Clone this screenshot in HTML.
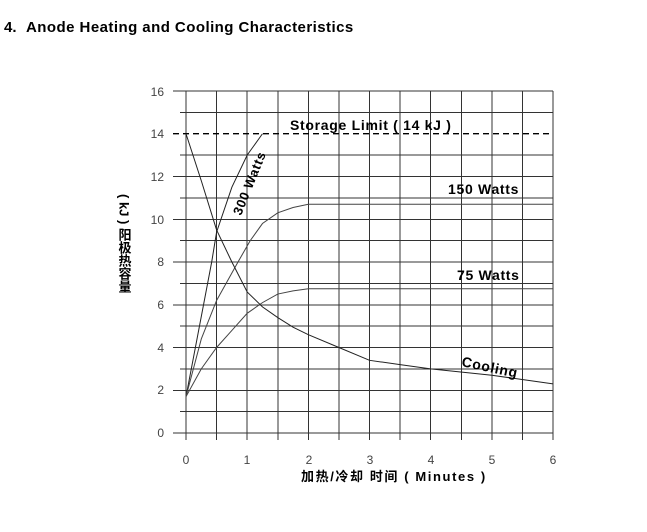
<!DOCTYPE html>
<html><head><meta charset="utf-8"><style>
body{margin:0;background:#fff;width:647px;height:532px;overflow:hidden;font-family:"Liberation Sans","Noto Sans CJK SC",sans-serif}
svg{position:absolute;left:0;top:0}
</style></head><body>
<svg width="647" height="532" xmlns="http://www.w3.org/2000/svg" font-family="Liberation Sans, Noto Sans CJK SC, sans-serif">
<text x="4" y="32" font-size="15" font-weight="bold" fill="#000">4.</text>
<text x="26" y="32" font-size="15" font-weight="bold" fill="#000" letter-spacing="0.45">Anode Heating and Cooling Characteristics</text>
<g stroke="#333" stroke-width="1" shape-rendering="crispEdges">
<line x1="173" y1="91" x2="553" y2="91"/><line x1="180" y1="112.4" x2="553" y2="112.4"/>
<line x1="180" y1="155.1" x2="553" y2="155.1"/><line x1="173" y1="176.5" x2="553" y2="176.5"/>
<line x1="180" y1="197.9" x2="553" y2="197.9"/><line x1="173" y1="219.3" x2="553" y2="219.3"/>
<line x1="180" y1="240.6" x2="553" y2="240.6"/><line x1="173" y1="262" x2="553" y2="262"/>
<line x1="180" y1="283.4" x2="553" y2="283.4"/><line x1="173" y1="304.8" x2="553" y2="304.8"/>
<line x1="180" y1="326.1" x2="553" y2="326.1"/><line x1="173" y1="347.5" x2="553" y2="347.5"/>
<line x1="180" y1="368.9" x2="553" y2="368.9"/><line x1="173" y1="390.3" x2="553" y2="390.3"/>
<line x1="180" y1="411.6" x2="553" y2="411.6"/><line x1="173" y1="433" x2="553" y2="433"/>
<line x1="186" y1="91" x2="186" y2="440"/><line x1="216.6" y1="91" x2="216.6" y2="440"/>
<line x1="247.2" y1="91" x2="247.2" y2="440"/><line x1="277.8" y1="91" x2="277.8" y2="440"/>
<line x1="308.3" y1="91" x2="308.3" y2="440"/><line x1="338.9" y1="91" x2="338.9" y2="440"/>
<line x1="369.5" y1="91" x2="369.5" y2="440"/><line x1="400.1" y1="91" x2="400.1" y2="440"/>
<line x1="430.7" y1="91" x2="430.7" y2="440"/><line x1="461.3" y1="91" x2="461.3" y2="440"/>
<line x1="491.9" y1="91" x2="491.9" y2="440"/><line x1="522.4" y1="91" x2="522.4" y2="440"/>
<line x1="553" y1="91" x2="553" y2="440"/>
</g>
<line x1="173" y1="133.7" x2="553" y2="133.7" stroke="#000" stroke-width="1.3" stroke-dasharray="6,4"/>
<g transform="translate(186,433) scale(61.17,-21.375)" fill="none" stroke="#222" stroke-width="1" >
<polyline vector-effect="non-scaling-stroke" points="0,1.7 0.42,8 0.5,9.4 0.75,11.5 1,13 1.25,14"/>
<polyline vector-effect="non-scaling-stroke" stroke="#444" points="0,1.7 0.25,4.4 0.5,6.2 0.85,8 1.05,9 1.25,9.8 1.5,10.3 1.75,10.55 2,10.7 6,10.7"/>
<polyline vector-effect="non-scaling-stroke" stroke="#444" points="0,1.7 0.25,3 0.5,4 0.75,4.8 1,5.6 1.25,6.1 1.5,6.5 1.75,6.65 2,6.75 6,6.75"/>
<polyline vector-effect="non-scaling-stroke" points="0,14 0.25,11.8 0.5,9.5 0.75,8 1,6.6 1.25,5.9 1.5,5.4 1.75,4.95 2,4.6 2.5,4 3,3.4 3.5,3.2 4,3 5,2.7 6,2.3"/>
</g>
<g font-size="12" fill="#444" text-anchor="end">
<text x="164" y="96">16</text><text x="164" y="138">14</text><text x="164" y="181">12</text>
<text x="164" y="224">10</text><text x="164" y="266">8</text><text x="164" y="309">6</text>
<text x="164" y="352">4</text><text x="164" y="394">2</text><text x="164" y="437">0</text>
</g>
<g font-size="12" fill="#444" text-anchor="middle">
<text x="186" y="464">0</text><text x="247" y="464">1</text><text x="309" y="464">2</text>
<text x="370" y="464">3</text><text x="431" y="464">4</text><text x="492" y="464">5</text><text x="553" y="464">6</text>
</g>
<g font-size="14" font-weight="bold" fill="#000" letter-spacing="0.7">
<text x="290" y="130">Storage Limit ( 14 kJ )</text>
<text x="448" y="194">150 Watts</text>
<text x="457" y="280">75 Watts</text>
<text transform="translate(461,366) rotate(12)">Cooling</text>
<text transform="translate(241,216) rotate(-68)" font-size="13" letter-spacing="0.8">300 Watts</text>
</g>
<text x="301" y="481" font-size="13" font-weight="bold" fill="#000" letter-spacing="1.6">加热/冷却  时间 ( Minutes )</text>
<text transform="translate(124,194)" font-size="13" font-weight="bold" fill="#000" style="writing-mode:vertical-rl">( kJ ) 阳极热容量</text>
</svg>
</body></html>
